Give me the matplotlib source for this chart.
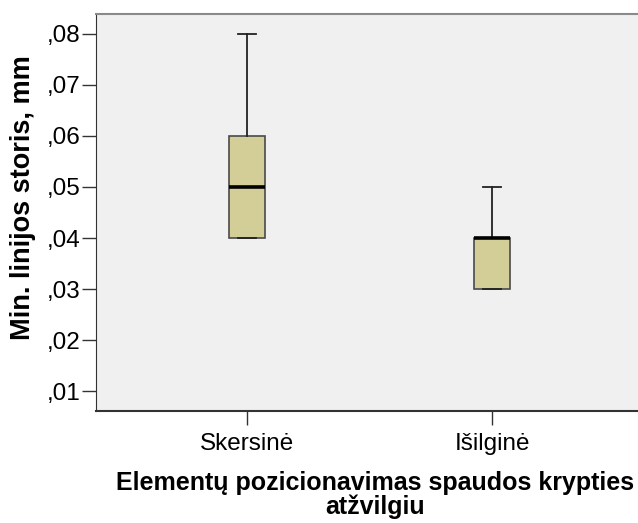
import matplotlib
matplotlib.use("Agg")
import matplotlib.pyplot as plt
from matplotlib.ticker import FuncFormatter

plt.rcParams["font.family"] = ["Liberation Sans", "DejaVu Sans"]

# box-plot summary per group
groups = ["Skersinė", "Išilginė"]
whislo = [0.04, 0.03]
q1 = [0.04, 0.03]
med = [0.05, 0.04]
q3 = [0.06, 0.04]
whishi = [0.08, 0.05]
yticks = [0.01, 0.02, 0.03, 0.04, 0.05, 0.06, 0.07, 0.08]

BOX_FACE = "#d3ce97"
BG = "#f0f0f0"

fig = plt.figure(figsize=(6.38, 5.23), dpi=100)
ax = fig.add_axes([96 / 638, 1 - 411 / 523, 1 - 96 / 638, (411 - 14) / 523])
ax.set_facecolor(BG)

stats = []
for i, g in enumerate(groups):
    stats.append(dict(label=g, whislo=whislo[i], q1=q1[i], med=med[i],
                      q3=q3[i], whishi=whishi[i], fliers=[]))

ax.bxp(stats, positions=[1, 2], widths=0.143, patch_artist=True,
       boxprops=dict(facecolor=BOX_FACE, edgecolor="#4a4a4a", linewidth=1.2),
       medianprops=dict(color="black", linewidth=2.6),
       whiskerprops=dict(color="#222222", linewidth=1.3),
       capprops=dict(color="#222222", linewidth=1.3))

ax.set_xlim(1 - 151 / 245, 2 + 146 / 245)
ax.set_ylim(0.0061, 0.0839)
ax.set_yticks(yticks)
ax.yaxis.set_major_formatter(
    FuncFormatter(lambda v, p: f"{v:.2f}".lstrip("0").replace(".", ",")))
ax.set_xticks([1, 2])
ax.set_xticklabels(groups)

ax.tick_params(axis="both", length=10, width=1, color="#333333",
               labelsize=17.5, labelcolor="black")
ax.tick_params(axis="y", pad=1)
ax.tick_params(axis="x", pad=6)

ax.spines["right"].set_visible(False)
ax.spines["top"].set_color("#8a8a8a")
ax.spines["top"].set_linewidth(1.5)
ax.spines["left"].set_color("#333333")
ax.spines["bottom"].set_color("#333333")
ax.spines["bottom"].set_linewidth(1.5)

ax.set_ylabel("Min. linijos storis, mm", fontsize=19.5, fontweight="bold")
ax.yaxis.set_label_coords(-(96 - 36) / (638 - 96), (411 - 198) / 397)
ax.set_xlabel("Elementų pozicionavimas spaudos krypties\natžvilgiu",
              fontsize=18, fontweight="bold", linespacing=1.0)
ax.xaxis.set_label_coords((375 - 96) / (638 - 96), -0.15)

fig.savefig("out.png", dpi=100)
